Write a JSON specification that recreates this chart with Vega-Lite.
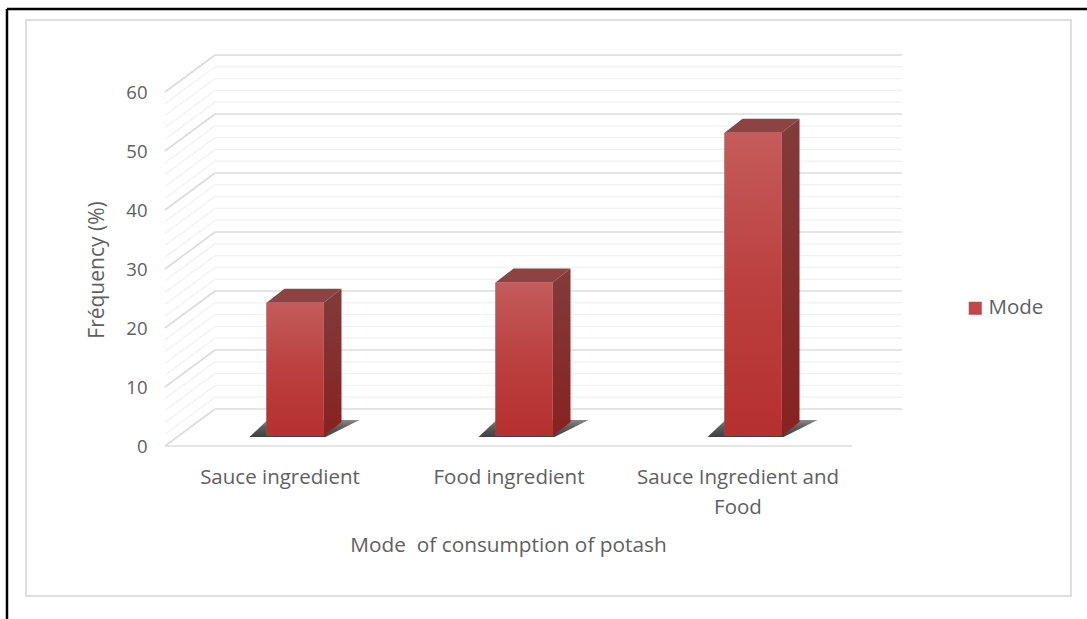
{
  "$schema": "https://vega.github.io/schema/vega-lite/v6.json",
  "width": 687,
  "height": 354,
  "padding": {"left": 165, "top": 92, "right": 235, "bottom": 173},
  "autosize": {"type": "none"},
  "background": "#ffffff",
  "config": {
    "view": {"stroke": null},
    "font": "Open Sans",
    "axis": {"labelColor": "#5f5f5f", "titleColor": "#5f5f5f", "labelFont": "Open Sans", "titleFont": "Open Sans", "titleFontWeight": "normal", "grid": false, "domain": false, "ticks": false}
  },
  "datasets": {
    "bars": [
      {"bar": 1, "series": "Mode", "value": 22.6},
      {"bar": 2, "series": "Mode", "value": 26},
      {"bar": 3, "series": "Mode", "value": 51.4}
    ],
    "extrusion": [
      {"bar": 1, "value": 22.6, "depth": 0},
      {"bar": 1, "value": 22.6, "depth": 1},
      {"bar": 2, "value": 26, "depth": 0},
      {"bar": 2, "value": 26, "depth": 1},
      {"bar": 3, "value": 51.4, "depth": 0},
      {"bar": 3, "value": 51.4, "depth": 1}
    ],
    "levels": [
      {"level": 0, "major": true}, {"level": 2, "major": false}, {"level": 4, "major": false}, {"level": 6, "major": false}, {"level": 8, "major": false},
      {"level": 10, "major": true}, {"level": 12, "major": false}, {"level": 14, "major": false}, {"level": 16, "major": false}, {"level": 18, "major": false},
      {"level": 20, "major": true}, {"level": 22, "major": false}, {"level": 24, "major": false}, {"level": 26, "major": false}, {"level": 28, "major": false},
      {"level": 30, "major": true}, {"level": 32, "major": false}, {"level": 34, "major": false}, {"level": 36, "major": false}, {"level": 38, "major": false},
      {"level": 40, "major": true}, {"level": 42, "major": false}, {"level": 44, "major": false}, {"level": 46, "major": false}, {"level": 48, "major": false},
      {"level": 50, "major": true}, {"level": 52, "major": false}, {"level": 54, "major": false}, {"level": 56, "major": false}, {"level": 58, "major": false},
      {"level": 60, "major": true}
    ]
  },
  "encoding": {
    "x": {
      "type": "quantitative",
      "scale": {"domain": [0.5, 3.5], "nice": false, "zero": false},
      "axis": {
        "values": [1, 2, 3],
        "title": "Mode \u00a0of consumption of potash",
        "titleX": 343,
        "titleY": 99,
        "titleFontSize": 20.8,
        "titleBaseline": "middle",
        "titleAlign": "center",
        "labelFontSize": 20.5,
        "labelPadding": 21,
        "labelLineHeight": 30,
        "labelFlush": false,
        "labelLimit": 300,
        "labelExpr": "datum.value === 1 ? 'Sauce ingredient' : datum.value === 2 ? 'Food ingredient' : ['Sauce Ingredient and', 'Food']"
      }
    },
    "y": {
      "type": "quantitative",
      "scale": {"domain": [0, 60], "nice": false, "zero": false},
      "axis": {
        "values": [0, 10, 20, 30, 40, 50, 60],
        "title": "Fréquency (%)",
        "titleX": -68,
        "titleY": 177.5,
        "titleFontSize": 21,
        "titleAngle": -90,
        "titleAlign": "center",
        "titleBaseline": "middle",
        "labelFontSize": 18.5,
        "labelPadding": 18
      }
    }
  },
  "layer": [
    {
      "description": "Chart panel border",
      "data": {"values": [{"panel": "chart"}]},
      "mark": {"type": "rect", "fill": null, "stroke": "#dedede", "strokeWidth": 2},
      "encoding": {
        "x": {"datum": -0.107},
        "x2": {"datum": 4.456},
        "y": {"datum": 72.2},
        "y2": {"datum": -25.42}
      }
    },
    {
      "description": "Black frame, left edge",
      "data": {"values": [{"panel": "frame"}]},
      "mark": {"type": "rule", "stroke": "#000000", "strokeWidth": 2.5},
      "encoding": {"x": {"datum": -0.19}, "y": {"datum": 74.07}, "y2": {"datum": -30}}
    },
    {
      "description": "Black frame, top edge",
      "data": {"values": [{"panel": "frame"}]},
      "mark": {"type": "rule", "stroke": "#000000", "strokeWidth": 2.5},
      "encoding": {"y": {"datum": 74.07}, "x": {"datum": -0.19}, "x2": {"datum": 4.55}}
    },
    {
      "description": "Side-wall gridlines running from the front plane to the back wall",
      "data": {"name": "levels"},
      "mark": {"type": "rule", "x2Offset": 50, "y2Offset": -37},
      "encoding": {
        "x": {"datum": 0.5},
        "x2": {"datum": 0.5},
        "y": {"field": "level"},
        "y2": {"field": "level"},
        "stroke": {"condition": {"test": "datum.major", "value": "#dcdcdc"}, "value": "#f1f1f1"},
        "strokeWidth": {"condition": {"test": "datum.major", "value": 1.6}, "value": 1.3}
      }
    },
    {
      "description": "Back-wall gridlines",
      "data": {"name": "levels"},
      "mark": {"type": "rule", "xOffset": 50, "x2Offset": 50, "yOffset": -37, "y2Offset": -37},
      "encoding": {
        "x": {"datum": 0.5},
        "x2": {"datum": 3.5},
        "y": {"field": "level"},
        "y2": {"field": "level"},
        "stroke": {"condition": {"test": "datum.major", "value": "#dcdcdc"}, "value": "#f1f1f1"},
        "strokeWidth": {"condition": {"test": "datum.major", "value": 1.6}, "value": 1.3}
      }
    },
    {
      "description": "Floor line along the category axis",
      "data": {"values": [{"level": 0}]},
      "mark": {"type": "rule", "stroke": "#dcdcdc", "strokeWidth": 1.6},
      "encoding": {"x": {"datum": 0.5}, "x2": {"datum": 3.5}, "y": {"field": "level"}}
    },
    {
      "description": "Floor shadow under each bar, extruded back from the bar's foot",
      "data": {"name": "extrusion"},
      "transform": [
        {"calculate": "datum.bar + (-30 + 18 * datum.depth) / 229", "as": "left"},
        {"calculate": "datum.bar + (46 + 34 * datum.depth) / 229", "as": "right"},
        {"calculate": "(9 + 17 * datum.depth) / 5.9", "as": "rise"}
      ],
      "mark": {
        "type": "area",
        "orient": "horizontal",
        "color": {"gradient": "linear", "x1": 0, "y1": 1, "x2": 0, "y2": 0, "stops": [{"offset": 0, "color": "#3f3f3f"}, {"offset": 0.6, "color": "#5e5e5e"}, {"offset": 1, "color": "#8a8a8a"}]}
      },
      "encoding": {
        "y": {"field": "rise"},
        "x": {"field": "left", "stack": null},
        "x2": {"field": "right"},
        "detail": {"field": "bar"}
      }
    },
    {
      "description": "Side face of each bar, extruded back from the front face",
      "data": {"name": "extrusion"},
      "transform": [
        {"calculate": "datum.bar + (44 + 18 * datum.depth) / 229", "as": "edge"},
        {"calculate": "datum.value + (10 + 14 * datum.depth) / 5.9", "as": "rise"},
        {"calculate": "(10 + 14 * datum.depth) / 5.9", "as": "foot"}
      ],
      "mark": {
        "type": "area",
        "orient": "vertical",
        "color": {"gradient": "linear", "x1": 0, "y1": 0, "x2": 0, "y2": 1, "stops": [{"offset": 0, "color": "#803c3b"}, {"offset": 1, "color": "#872221"}]}
      },
      "encoding": {
        "x": {"field": "edge"},
        "y": {"field": "rise", "stack": null},
        "y2": {"field": "foot"},
        "detail": {"field": "bar"}
      }
    },
    {
      "description": "Top face of each bar, extruded back from the front face",
      "data": {"name": "extrusion"},
      "transform": [
        {"calculate": "datum.bar + (-13 + 18 * datum.depth) / 229", "as": "left"},
        {"calculate": "datum.bar + (44 + 18 * datum.depth) / 229", "as": "right"},
        {"calculate": "datum.value + (10 + 14 * datum.depth) / 5.9", "as": "rise"}
      ],
      "mark": {"type": "area", "orient": "horizontal", "fill": "#8c4341"},
      "encoding": {
        "y": {"field": "rise"},
        "x": {"field": "left", "stack": null},
        "x2": {"field": "right"},
        "detail": {"field": "bar"}
      }
    },
    {
      "description": "Front face, carries the legend colour",
      "data": {"name": "bars"},
      "mark": {"type": "rect", "xOffset": -13, "x2Offset": 44, "yOffset": -10, "y2Offset": -10},
      "encoding": {
        "x": {"field": "bar"},
        "x2": {"field": "bar"},
        "y": {"field": "value"},
        "y2": {"datum": 0},
        "color": {
          "field": "series",
          "type": "nominal",
          "scale": {"domain": ["Mode"], "range": ["#c0484a"]},
          "legend": {"orient": "none", "legendX": 800, "legendY": 206, "title": null, "symbolType": "square", "symbolSize": 170, "symbolStrokeWidth": 0, "labelFontSize": 20.5, "labelColor": "#5f5f5f", "labelFont": "Open Sans", "labelOffset": 3}
        }
      }
    },
    {
      "description": "Front face shading",
      "data": {"name": "bars"},
      "mark": {
        "type": "rect",
        "xOffset": -13,
        "x2Offset": 44,
        "yOffset": -10,
        "y2Offset": -10,
        "color": {"gradient": "linear", "x1": 0, "y1": 0, "x2": 0, "y2": 1, "stops": [{"offset": 0, "color": "#c45c5b"}, {"offset": 0.5, "color": "#bb403f"}, {"offset": 1, "color": "#b5302f"}]}
      },
      "encoding": {
        "x": {"field": "bar"},
        "x2": {"field": "bar"},
        "y": {"field": "value"},
        "y2": {"datum": 0}
      }
    }
  ]
}
